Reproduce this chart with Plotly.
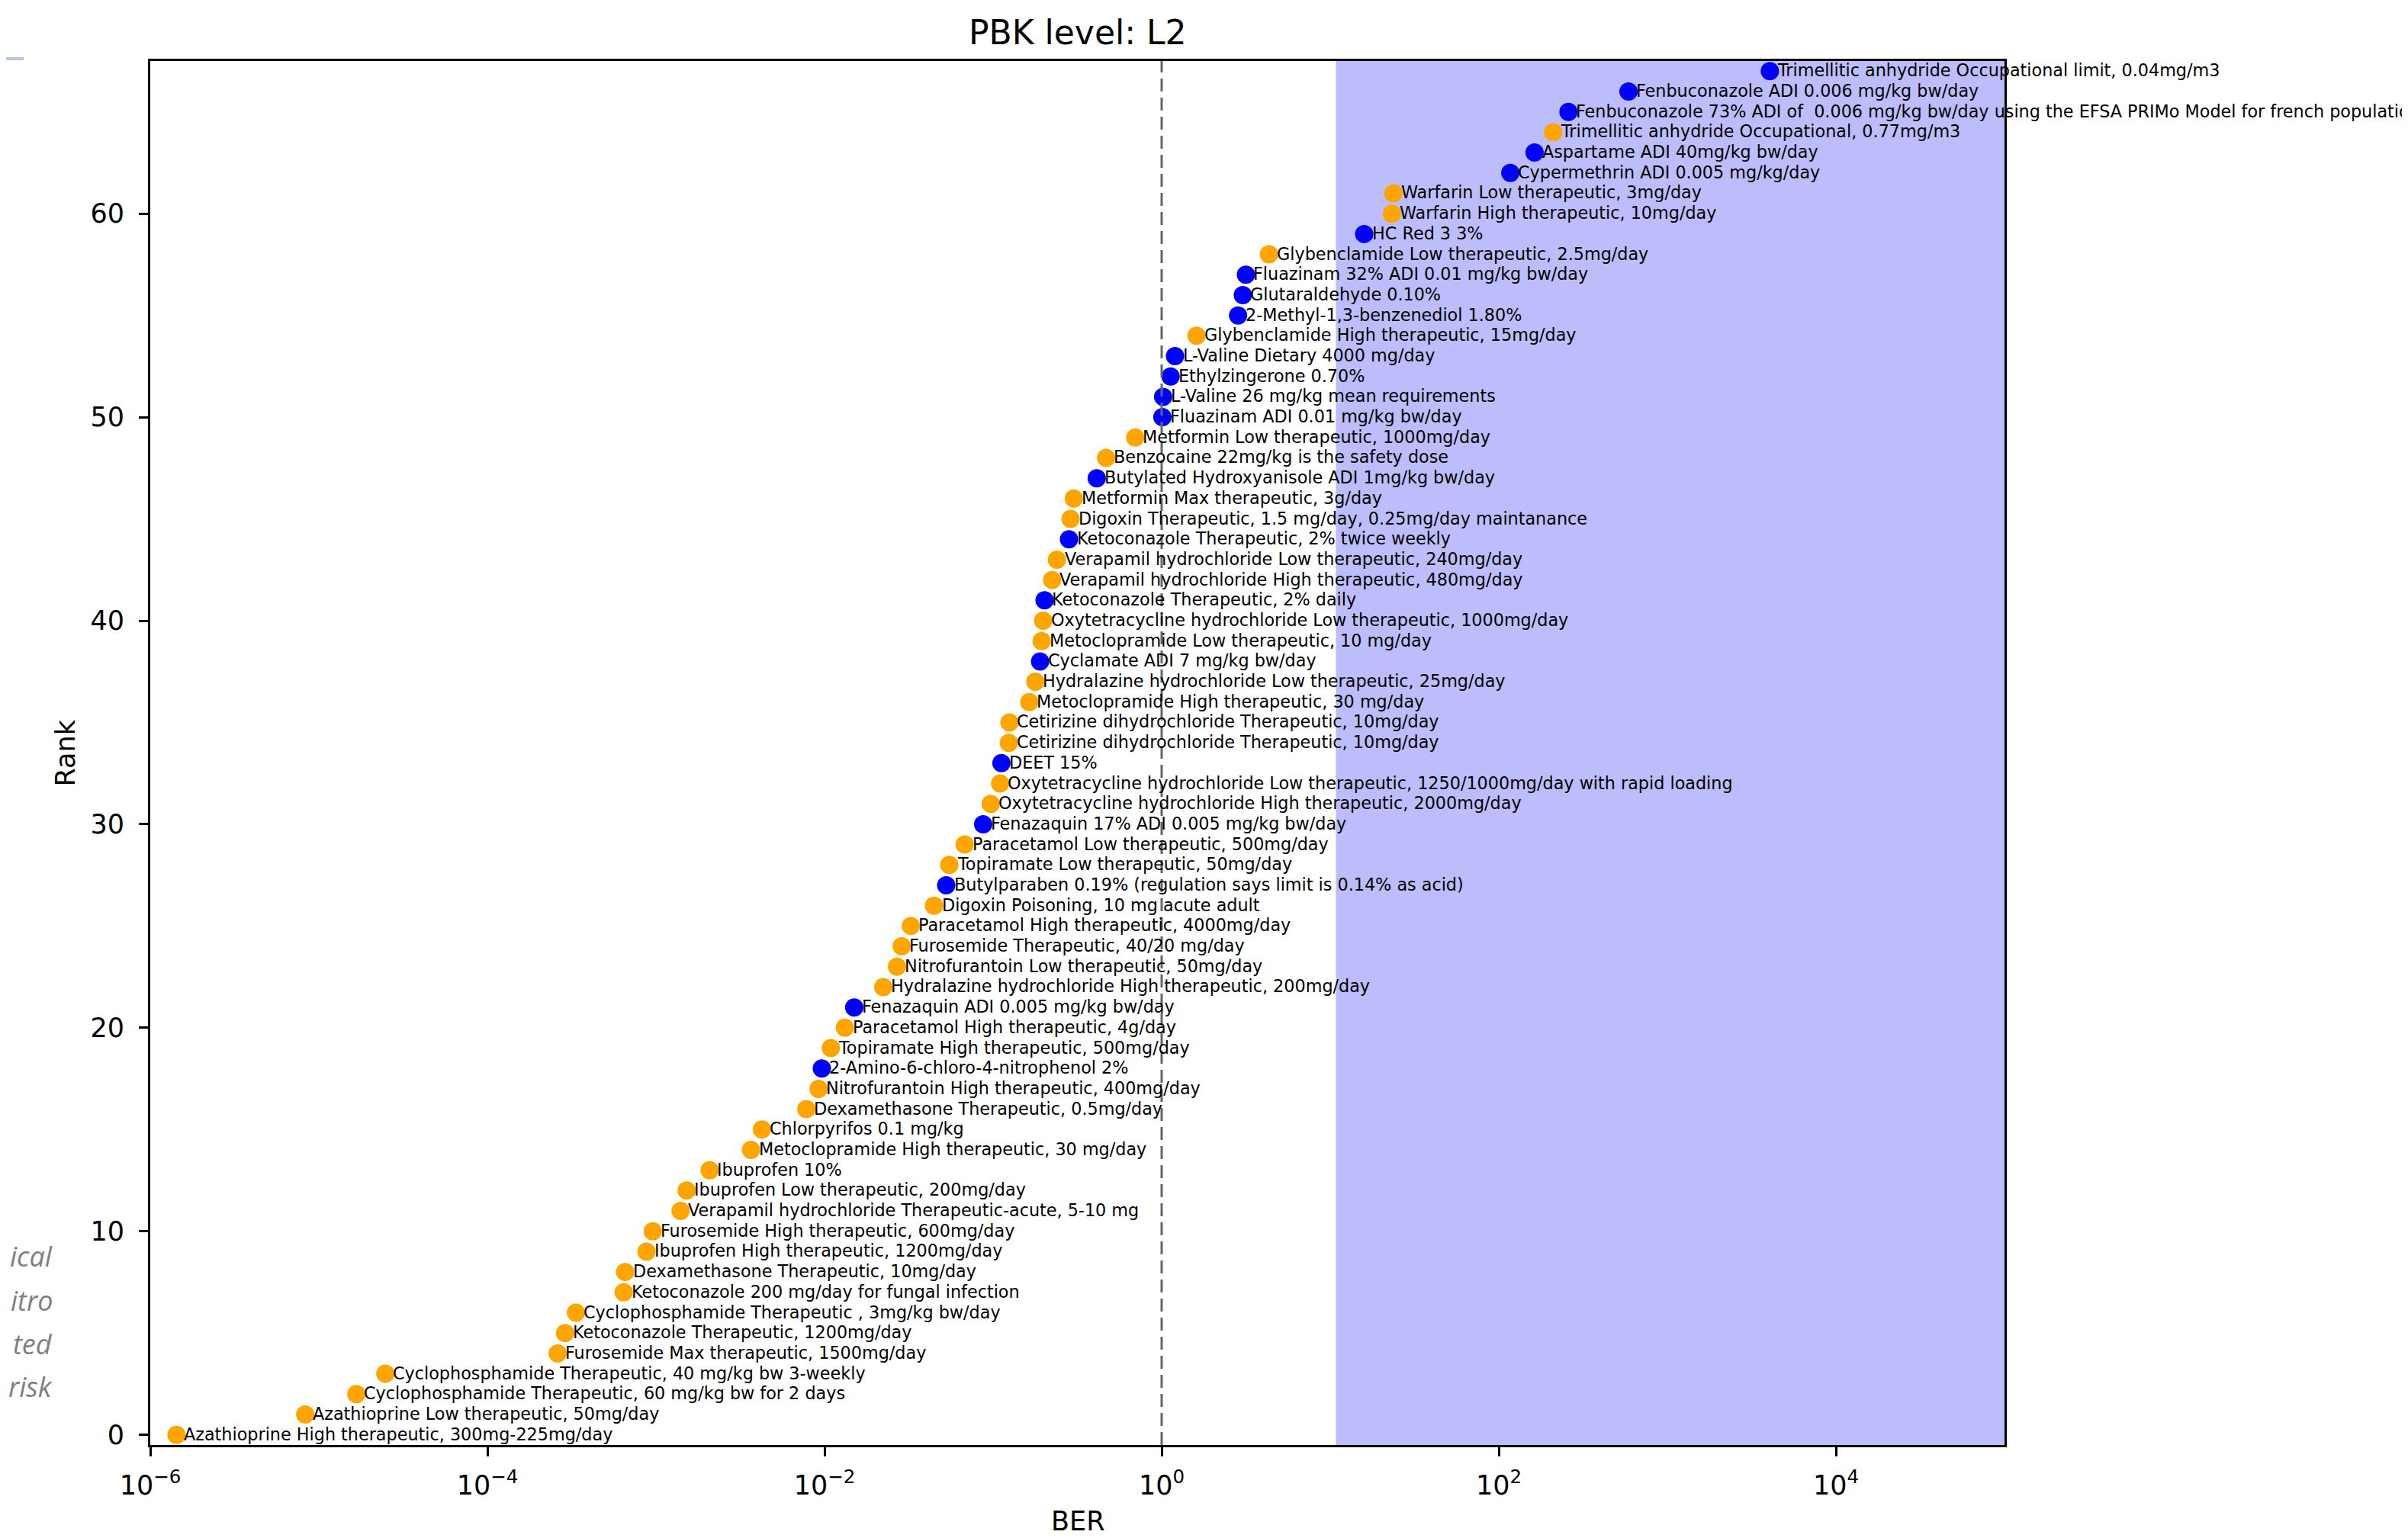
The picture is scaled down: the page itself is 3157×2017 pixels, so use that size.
import math
import plotly.graph_objects as go

# ---------------- data (rank 0 .. 67, bottom to top) ----------------
ranks = [0, 1, 2, 3, 4, 5, 6, 7, 8, 9, 10, 11, 12, 13, 14, 15, 16, 17, 18, 19,
         20, 21, 22, 23, 24, 25, 26, 27, 28, 29, 30, 31, 32, 33, 34, 35, 36, 37, 38, 39,
         40, 41, 42, 43, 44, 45, 46, 47, 48, 49, 50, 51, 52, 53, 54, 55, 56, 57, 58, 59,
         60, 61, 62, 63, 64, 65, 66, 67]

labels = [
    "Azathioprine High therapeutic, 300mg-225mg/day",
    "Azathioprine Low therapeutic, 50mg/day",
    "Cyclophosphamide Therapeutic, 60 mg/kg bw for 2 days",
    "Cyclophosphamide Therapeutic, 40 mg/kg bw 3-weekly",
    "Furosemide Max therapeutic, 1500mg/day",
    "Ketoconazole Therapeutic, 1200mg/day",
    "Cyclophosphamide Therapeutic , 3mg/kg bw/day",
    "Ketoconazole 200 mg/day for fungal infection",
    "Dexamethasone Therapeutic, 10mg/day",
    "Ibuprofen High therapeutic, 1200mg/day",
    "Furosemide High therapeutic, 600mg/day",
    "Verapamil hydrochloride Therapeutic-acute, 5-10 mg",
    "Ibuprofen Low therapeutic, 200mg/day",
    "Ibuprofen 10%",
    "Metoclopramide High therapeutic, 30 mg/day",
    "Chlorpyrifos 0.1 mg/kg",
    "Dexamethasone Therapeutic, 0.5mg/day",
    "Nitrofurantoin High therapeutic, 400mg/day",
    "2-Amino-6-chloro-4-nitrophenol 2%",
    "Topiramate High therapeutic, 500mg/day",
    "Paracetamol High therapeutic, 4g/day",
    "Fenazaquin ADI 0.005 mg/kg bw/day",
    "Hydralazine hydrochloride High therapeutic, 200mg/day",
    "Nitrofurantoin Low therapeutic, 50mg/day",
    "Furosemide Therapeutic, 40/20 mg/day",
    "Paracetamol High therapeutic, 4000mg/day",
    "Digoxin Poisoning, 10 mg acute adult",
    "Butylparaben 0.19% (regulation says limit is 0.14% as acid)",
    "Topiramate Low therapeutic, 50mg/day",
    "Paracetamol Low therapeutic, 500mg/day",
    "Fenazaquin 17% ADI 0.005 mg/kg bw/day",
    "Oxytetracycline hydrochloride High therapeutic, 2000mg/day",
    "Oxytetracycline hydrochloride Low therapeutic, 1250/1000mg/day with rapid loading",
    "DEET 15%",
    "Cetirizine dihydrochloride Therapeutic, 10mg/day",
    "Cetirizine dihydrochloride Therapeutic, 10mg/day",
    "Metoclopramide High therapeutic, 30 mg/day",
    "Hydralazine hydrochloride Low therapeutic, 25mg/day",
    "Cyclamate ADI 7 mg/kg bw/day",
    "Metoclopramide Low therapeutic, 10 mg/day",
    "Oxytetracycline hydrochloride Low therapeutic, 1000mg/day",
    "Ketoconazole Therapeutic, 2% daily",
    "Verapamil hydrochloride High therapeutic, 480mg/day",
    "Verapamil hydrochloride Low therapeutic, 240mg/day",
    "Ketoconazole Therapeutic, 2% twice weekly",
    "Digoxin Therapeutic, 1.5 mg/day, 0.25mg/day maintanance",
    "Metformin Max therapeutic, 3g/day",
    "Butylated Hydroxyanisole ADI 1mg/kg bw/day",
    "Benzocaine 22mg/kg is the safety dose",
    "Metformin Low therapeutic, 1000mg/day",
    "Fluazinam ADI 0.01 mg/kg bw/day",
    "L-Valine 26 mg/kg mean requirements",
    "Ethylzingerone 0.70%",
    "L-Valine Dietary 4000 mg/day",
    "Glybenclamide High therapeutic, 15mg/day",
    "2-Methyl-1,3-benzenediol 1.80%",
    "Glutaraldehyde 0.10%",
    "Fluazinam 32% ADI 0.01 mg/kg bw/day",
    "Glybenclamide Low therapeutic, 2.5mg/day",
    "HC Red 3 3%",
    "Warfarin High therapeutic, 10mg/day",
    "Warfarin Low therapeutic, 3mg/day",
    "Cypermethrin ADI 0.005 mg/kg/day",
    "Aspartame ADI 40mg/kg bw/day",
    "Trimellitic anhydride Occupational, 0.77mg/m3",
    "Fenbuconazole 73% ADI of  0.006 mg/kg bw/day using the EFSA PRIMo Model for french population",
    "Fenbuconazole ADI 0.006 mg/kg bw/day",
    "Trimellitic anhydride Occupational limit, 0.04mg/m3",
]

ber = [1.43e-6, 8.3e-6, 1.67e-5, 2.48e-5, 2.61e-4, 2.89e-4, 3.35e-4, 6.43e-4, 6.56e-4, 8.79e-4,
       9.57e-4, 1.40e-3, 1.52e-3, 2.08e-3, 3.66e-3, 4.25e-3, 7.80e-3, 9.22e-3, 9.64e-3, 1.09e-2,
       1.32e-2, 1.50e-2, 2.23e-2, 2.69e-2, 2.87e-2, 3.25e-2, 4.46e-2, 5.27e-2, 5.50e-2, 6.78e-2,
       8.73e-2, 9.68e-2, 0.110, 0.112, 0.124, 0.125, 0.164, 0.178, 0.190, 0.194,
       0.198, 0.202, 0.224, 0.239, 0.282, 0.288, 0.301, 0.412, 0.468, 0.697,
       1.01, 1.02, 1.13, 1.20, 1.61, 2.84, 3.03, 3.16, 4.33, 15.9,
       23.2, 23.7, 117, 163, 210, 259, 588, 4055]

# "drug" = pharmaceutical (orange), "other" = non-pharmaceutical (blue)
group = ["drug"] * 18 + ["other"] + ["drug"] * 2 + ["other"] + ["drug"] * 5 + ["other"] + \
        ["drug"] * 2 + ["other"] + ["drug"] * 2 + ["other"] + ["drug"] * 4 + ["other"] + \
        ["drug"] * 2 + ["other"] + ["drug"] * 2 + ["other"] + ["drug"] * 2 + ["other"] + \
        ["drug"] * 2 + ["other"] * 4 + ["drug"] + ["other"] * 3 + ["drug"] + ["other"] + \
        ["drug"] * 2 + ["other"] * 2 + ["drug"] + ["other"] * 3

high_risk_from = 10.8
high_risk_to = 1e5
ref_line = 1.0

x_tickvals = [1e-6, 1e-4, 1e-2, 1, 1e2, 1e4]
x_ticktext = ["10<sup>\u22126</sup>", "10<sup>\u22124</sup>", "10<sup>\u22122</sup>",
              "10<sup>0</sup>", "10<sup>2</sup>", "10<sup>4</sup>"]
y_tickvals = [0, 10, 20, 30, 40, 50, 60]

title_text = "PBK level: L2"
x_title = "BER"
y_title = "Rank"
slide_fragments = ["ical", "itro", "ted", "risk"]

# ---------------- style ----------------
OFF = 8                      # default page (body) margin of the html page
PAGE_W, PAGE_H = 3157, 2017
PL, PT, PW, PH = 197, 80, 2431, 1815   # plot area in page pixels
W, H = PAGE_W - OFF, PAGE_H - OFF
L, T = PL - OFF, PT - OFF
R = W - L - PW
B = H - T - PH
FONT = "DejaVu Sans"
color_map = {"drug": "#FFA500", "other": "#0000FF"}

fig = go.Figure()
fig.add_trace(go.Scatter(
    x=ber, y=ranks, mode="markers",
    marker=dict(size=24, color=[color_map[g] for g in group], line=dict(width=0)),
    showlegend=False, hoverinfo="text", text=labels,
))

shapes = [
    dict(type="rect", xref="x", yref="paper", x0=high_risk_from, x1=high_risk_to, y0=0, y1=1,
         fillcolor="rgb(189,189,252)", line=dict(width=0), layer="below"),
    dict(type="line", xref="x", yref="paper", x0=ref_line, x1=ref_line, y0=0, y1=1,
         line=dict(color="#666666", width=3, dash="17px,8px"), layer="above"),
    # slide decoration line at top-left
    dict(type="line", xref="paper", yref="paper", x0=-PL / PW, x1=(31 - PL) / PW,
         y0=(PT + PH - 77) / PH, y1=(PT + PH - 77) / PH,
         line=dict(color="#b4c7e7", width=4)),
]

annotations = []
for xv, yv, lab in zip(ber, ranks, labels):
    annotations.append(dict(
        x=math.log10(xv), y=yv, xref="x", yref="y", text=lab, showarrow=False,
        xanchor="left", yanchor="middle", xshift=8, yshift=1,
        font=dict(family=FONT, size=22.3, color="black"),
    ))

annotations.append(dict(x=0.5, y=1, xref="paper", yref="paper", text=title_text,
                        showarrow=False, xanchor="center", yanchor="bottom", yshift=10,
                        font=dict(family=FONT, size=44, color="black")))
annotations.append(dict(x=0.5, y=0, xref="paper", yref="paper", text=x_title,
                        showarrow=False, xanchor="center", yanchor="middle", yshift=-100,
                        font=dict(family=FONT, size=35, color="black")))
annotations.append(dict(x=0, y=0.5, xref="paper", yref="paper", text=y_title,
                        showarrow=False, xanchor="center", yanchor="middle", xshift=-112,
                        textangle=-90, font=dict(family=FONT, size=35, color="black")))
for txt, ys in zip(slide_fragments, [248, 190, 133, 77]):
    annotations.append(dict(x=0, y=0, xref="paper", yref="paper", text=f"<i>{txt}</i>",
                            showarrow=False, xanchor="right", yanchor="middle",
                            xshift=70 - PL, yshift=ys, borderpad=0,
                            font=dict(family="Open Sans", size=36, color="#7f7f7f")))

fig.update_layout(
    width=W, height=H,
    margin=dict(l=L, r=R, t=T, b=B, pad=0),
    paper_bgcolor="white", plot_bgcolor="white",
    shapes=shapes, annotations=annotations,
    font=dict(family=FONT, color="black"),
    xaxis=dict(type="log", range=[-6, 5], tickvals=x_tickvals, ticktext=x_ticktext,
               showgrid=False, zeroline=False, showline=True, linecolor="black",
               linewidth=3, mirror=True, ticks="outside", ticklen=12, tickwidth=3,
               tickcolor="black", tickfont=dict(family=FONT, size=35, color="black"),
               ticklabelstandoff=8),
    yaxis=dict(range=[-0.5, 67.5], tickvals=y_tickvals, showgrid=False, zeroline=False,
               showline=True, linecolor="black", linewidth=3, mirror=True,
               ticks="outside", ticklen=12, tickwidth=3, tickcolor="black",
               tickfont=dict(family=FONT, size=35, color="black"), ticklabelstandoff=12),
)

fig.write_html("out.html")
